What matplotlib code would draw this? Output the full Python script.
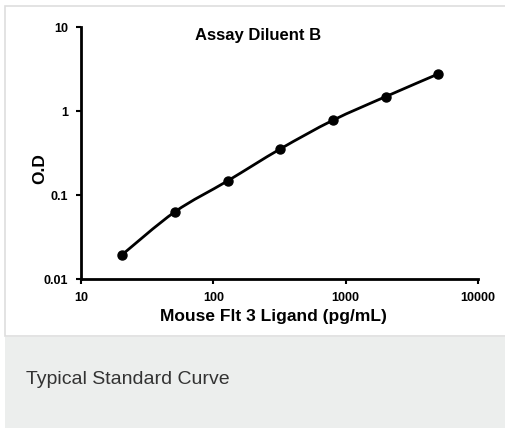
import matplotlib
matplotlib.use("Agg")
import matplotlib.pyplot as plt
import numpy as np
from matplotlib.patches import Rectangle, PathPatch
from matplotlib.path import Path
from matplotlib.ticker import FixedLocator, FixedFormatter, NullLocator

# standard curve
conc = [20.48, 51.2, 128, 320, 800, 2000, 5000]
od = [0.0195, 0.063, 0.147, 0.353, 0.775, 1.48, 2.76]

x_ticks = [10, 100, 1000, 10000]
x_labels = ["10", "100", "1000", "10000"]
y_ticks = [0.01, 0.1, 1, 10]
y_labels = ["0.01", "0.1", "1", "10"]

W, H = 506, 428
plt.rcParams["font.family"] = ["Liberation Sans", "DejaVu Sans"]

fig = plt.figure(figsize=(W / 100, H / 100), dpi=100)
fig.patch.set_facecolor("white")

# white card with thin grey border, grey caption strip below
fig.add_artist(Rectangle((5.5 / W, 1 - 336 / H), 1.0, 330 / H,
                         transform=fig.transFigure, facecolor="white",
                         edgecolor="#dedede", linewidth=1.2, zorder=-10))
fig.add_artist(Rectangle((5 / W, 0), 1.0, 91 / H,
                         transform=fig.transFigure, facecolor="#eceeed",
                         edgecolor="none", zorder=-10))
fig.text(26 / W, 1 - 380 / H, "Typical Standard Curve", fontsize=14,
         color="#333333", va="center", ha="left")

ax = fig.add_axes([81 / W, 1 - 279 / H, (478 - 81) / W, (279 - 27) / H])
ax.set_facecolor("none")
ax.set_xscale("log")
ax.set_yscale("log")
ax.set_xlim(10, 10000)
ax.set_ylim(0.01, 10)

# smooth line (Excel style) as a Catmull-Rom bezier in log space
lx = np.log10(conc)
ly = np.log10(od)
pts = np.column_stack([lx, ly])
ext = np.vstack([pts[0], pts, pts[-1]])
verts = [pts[0]]
codes = [Path.MOVETO]
for i in range(1, len(ext) - 2):
    p0, p1, p2, p3 = ext[i - 1], ext[i], ext[i + 1], ext[i + 2]
    verts += [p1 + (p2 - p0) / 6, p2 - (p3 - p1) / 6, p2]
    codes += [Path.CURVE4] * 3
verts = 10 ** np.array(verts)
ax.add_patch(PathPatch(Path(verts, codes), facecolor="none",
                       edgecolor="black", linewidth=2.0, zorder=2))
ax.plot(conc, od, linestyle="none", marker="o", markersize=6.5,
        color="black", zorder=3)

for s in ["top", "right"]:
    ax.spines[s].set_visible(False)
for s in ["left", "bottom"]:
    ax.spines[s].set_linewidth(2.0)

ax.xaxis.set_major_locator(FixedLocator(x_ticks))
ax.xaxis.set_major_formatter(FixedFormatter(x_labels))
ax.yaxis.set_major_locator(FixedLocator(y_ticks))
ax.yaxis.set_major_formatter(FixedFormatter(y_labels))
ax.xaxis.set_minor_locator(NullLocator())
ax.yaxis.set_minor_locator(NullLocator())
ax.tick_params(direction="out", length=3.5, width=1.5, labelsize=9)
ax.tick_params(axis="x", pad=6)
ax.tick_params(axis="y", pad=6)
for t in ax.get_xticklabels() + ax.get_yticklabels():
    t.set_fontweight("bold")

ax.set_xlabel("Mouse Flt 3 Ligand (pg/mL)", fontsize=12.5, fontweight="bold")
ax.xaxis.set_label_coords(0.484, -0.147)
ax.xaxis.label.set_va("center")
ax.set_ylabel("O.D", fontsize=12.5, fontweight="bold")
ax.yaxis.set_label_coords(-0.103, 0.437)
ax.yaxis.label.set_va("center")
ax.text(0.447, 0.965, "Assay Diluent B", transform=ax.transAxes,
        fontsize=12, fontweight="bold", ha="center", va="center")

fig.savefig("out.png", dpi=100)
